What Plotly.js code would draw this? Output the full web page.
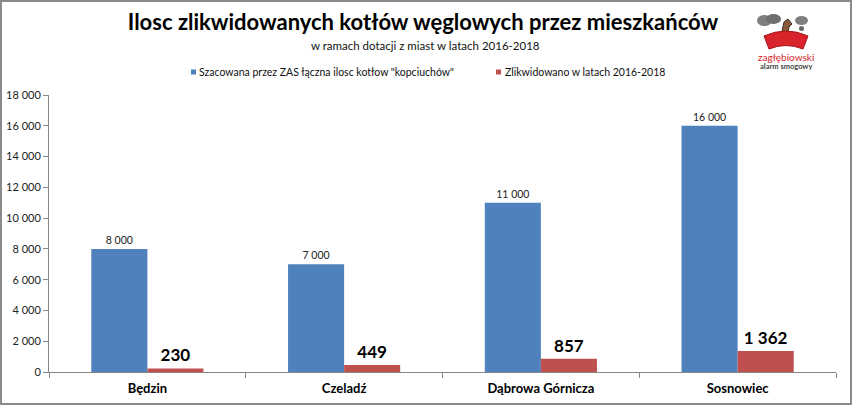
<!DOCTYPE html>
<html><head><meta charset="utf-8">
<script src="https://cdn.plot.ly/plotly-3.0.1.min.js"></script>
<style>html,body{margin:0;padding:0;background:#fff}#c{width:852px;height:405px}</style>
</head><body><div id="c"></div>
<script>
const categories = ["Będzin", "Czeladź", "Dąbrowa Górnicza", "Sosnowiec"];
const estimated = [8000, 7000, 11000, 16000];
const removed = [230, 449, 857, 1362];
const seriesNames = ["Szacowana przez ZAS łączna ilosc kotłow \"kopciuchów\"", "Zlikwidowano w latach 2016-2018"];
const seriesColors = ["#4F81BD", "#C0504D"];
const yTicks = [0, 2000, 4000, 6000, 8000, 10000, 12000, 14000, 16000, 18000];

const F = "Lato, 'Open Sans', sans-serif";
const L = 49, R = 836, T = 95, B = 372;
const px = x => (x - L) / (R - L);
const py = y => (B - y) / (B - T);

const traces = [
  {type: "bar", x: categories, y: estimated, name: seriesNames[0],
   marker: {color: seriesColors[0]}, text: estimated, texttemplate: "%{y:,}",
   textposition: "outside", outsidetextfont: {family: F, size: 10.5, color: "#222"}, cliponaxis: false},
  {type: "bar", x: categories, y: removed, name: seriesNames[1],
   marker: {color: seriesColors[1]}, text: removed, texttemplate: "%{y:,}",
   textposition: "outside", outsidetextfont: {family: F, size: 17, color: "#000", weight: "bold"}, cliponaxis: false}
];

const legendPos = [{sx: 191, tx: 197}, {sx: 496, tx: 503}];
const legendY = 72;

const shapes = [
  {type: "rect", xref: "paper", yref: "paper", x0: px(1), x1: px(851), y0: py(404), y1: py(1),
   line: {color: "#8a8a8a", width: 2}, fillcolor: "rgba(0,0,0,0)"},
  // logo: clouds
  {type: "circle", xref: "paper", yref: "paper", x0: px(757), x1: px(772), y0: py(26), y1: py(15), fillcolor: "#7f7f7f", line: {width: 0}},
  {type: "circle", xref: "paper", yref: "paper", x0: px(766), x1: px(781), y0: py(24), y1: py(14), fillcolor: "#6f6f6f", line: {width: 0}},
  {type: "circle", xref: "paper", yref: "paper", x0: px(795), x1: px(808), y0: py(25), y1: py(16), fillcolor: "#7f7f7f", line: {width: 0}},
  {type: "circle", xref: "paper", yref: "paper", x0: px(799), x1: px(804), y0: py(31), y1: py(26), fillcolor: "#666", line: {width: 0}},
  // chimney / figure
  {type: "path", xref: "paper", yref: "paper",
   path: `M ${px(781)} ${py(36)} L ${px(784)} ${py(22)} L ${px(788)} ${py(19)} L ${px(792)} ${py(24)} L ${px(789)} ${py(27)} L ${px(787)} ${py(36)} Z`,
   fillcolor: "#8b5a3c", line: {color: "#3a2a20", width: 1}},
  // brick arc
  {type: "path", xref: "paper", yref: "paper",
   path: `M ${px(764)} ${py(36)} Q ${px(786)} ${py(26)} ${px(808)} ${py(36)} L ${px(803)} ${py(49)} Q ${px(786)} ${py(42)} ${px(769)} ${py(49)} Z`,
   fillcolor: "#d9242b", line: {color: "#a8151b", width: 1}}
];
legendPos.forEach((p, i) => shapes.push({type: "rect", xref: "paper", yref: "paper",
  x0: px(p.sx), x1: px(p.sx + 5), y0: py(legendY + 2.5), y1: py(legendY - 2.5),
  fillcolor: seriesColors[i], line: {width: 0}}));

const annotations = [
  {text: "w ramach dotacji z miast w latach 2016-2018", xref: "paper", yref: "paper",
   x: px(425), y: py(45), xanchor: "center", yanchor: "middle", showarrow: false, font: {family: F, size: 11.5, color: "#111"}},
  {text: "zagłębiowski", xref: "paper", yref: "paper", x: px(786), y: py(57), xanchor: "center", yanchor: "middle", showarrow: false,
   font: {family: F, size: 10, color: "#d9242b"}},
  {text: "alarm smogowy", xref: "paper", yref: "paper", x: px(786), y: py(67), xanchor: "center", yanchor: "middle", showarrow: false,
   font: {family: F, size: 7.5, color: "#444", weight: "bold"}}
];
legendPos.forEach((p, i) => annotations.push({text: seriesNames[i], xref: "paper", yref: "paper",
  x: px(p.tx), y: py(legendY), xanchor: "left", yanchor: "middle", showarrow: false,
  font: {family: F, size: 10.5, color: "#111"}}));

const layout = {
  width: 852, height: 405,
  margin: {l: L, r: 852 - R, t: T, b: 405 - B, pad: 0},
  paper_bgcolor: "#fff", plot_bgcolor: "#fff",
  separators: ", ",
  title: {text: "<b>Ilosc zlikwidowanych kotłów węglowych przez mieszkańców</b>",
    x: 423 / 852, xanchor: "center", y: 1 - 22 / 405, yanchor: "middle", yref: "container",
    font: {family: F, size: 22, color: "#000"}},
  barmode: "group", bargap: 0.43, bargroupgap: 0,
  showlegend: false,
  xaxis: {type: "category", range: [-0.5, 3.5], showline: true, linecolor: "#868686", linewidth: 1,
    ticks: "outside", tickson: "boundaries", ticklen: 5, tickcolor: "#868686", ticklabelstandoff: 4,
    tickfont: {family: F, size: 13, color: "#000", weight: "bold"}, showgrid: false, fixedrange: true},
  yaxis: {range: [0, 18000], tickvals: yTicks, tickformat: ",d", showline: true, linecolor: "#868686", linewidth: 1,
    ticks: "outside", ticklen: 5, tickcolor: "#868686", showgrid: false, zeroline: false,
    tickfont: {family: F, size: 11, color: "#222"}, fixedrange: true},
  shapes: shapes, annotations: annotations
};

Plotly.newPlot("c", traces, layout, {displayModeBar: false, staticPlot: true});
</script></body></html>
